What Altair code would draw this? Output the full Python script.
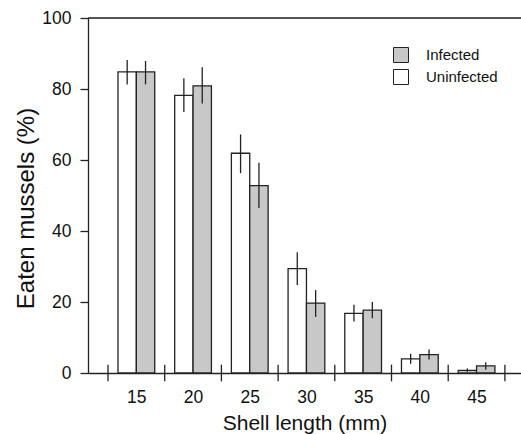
import altair as alt
import pandas as pd

lengths = [15, 20, 25, 30, 35, 40, 45]
uninfected = [84.8, 78.2, 61.9, 29.4, 16.8, 4.0, 0.7]
uninfected_lo = [81.3, 73.5, 56.3, 24.8, 14.5, 2.6, 0.3]
uninfected_hi = [88.2, 83.0, 67.2, 34.0, 19.2, 5.4, 1.3]
infected = [84.8, 80.9, 52.8, 19.7, 17.7, 5.2, 2.0]
infected_lo = [81.3, 75.9, 46.5, 15.8, 15.4, 3.8, 0.9]
infected_hi = [87.9, 86.1, 59.2, 23.4, 20.0, 6.6, 3.0]
boundaries = [12.5, 17.5, 22.5, 27.5, 32.5, 37.5, 42.5, 47.5]
groups = ["Infected", "Uninfected"]

FONT = "Liberation Sans"
DARK = "#222222"
HALF = 1.62  # bar width in mm units

rows = []
for i, L in enumerate(lengths):
    rows.append({"length": L, "group": "Uninfected", "value": uninfected[i],
                 "lo": uninfected_lo[i], "hi": uninfected_hi[i], "side": -1})
    rows.append({"length": L, "group": "Infected", "value": infected[i],
                 "lo": infected_lo[i], "hi": infected_hi[i], "side": 0})
df = pd.DataFrame(rows)
tick_df = pd.DataFrame({"b": boundaries})

xscale = alt.Scale(domain=[10.736, 48.92], nice=False, zero=False)
yscale = alt.Scale(domain=[0, 100], nice=False)

base = alt.Chart(df).transform_calculate(
    x0=f"datum.length + datum.side*{HALF}",
    x1=f"datum.length + (datum.side+1)*{HALF}",
    xc=f"datum.length + (datum.side+0.5)*{HALF}",
)

bars = base.mark_bar(stroke=DARK, strokeWidth=1.3).encode(
    x=alt.X("x0:Q", scale=xscale,
            axis=alt.Axis(values=lengths, ticks=False, title="Shell length (mm)",
                          labelFontSize=17.5, labelPadding=15, titleFontSize=21,
                          titlePadding=7, domainColor=DARK, domainWidth=1.3,
                          grid=False, labelColor="#111", titleColor="#111")),
    x2="x1:Q",
    y=alt.Y("value:Q", scale=yscale,
            axis=alt.Axis(values=[0, 20, 40, 60, 80, 100], tickSize=8,
                          tickColor=DARK, tickWidth=1.3, domainColor=DARK,
                          domainWidth=1.3, labelFontSize=17.5, labelPadding=9,
                          title="Eaten mussels (%)", titleFontSize=24,
                          titleAngle=270, titleX=-55, titleY=190,
                          titleBaseline="alphabetic", titleAlign="center",
                          grid=False, labelColor="#111", titleColor="#111")),
    y2=alt.datum(0),
    color=alt.Color("group:N", scale=alt.Scale(domain=groups, range=["#c8c8c8", "#ffffff"]),
                    legend=alt.Legend(title=None, orient="none", legendX=305, legendY=29,
                                      symbolType="square", symbolSize=225,
                                      symbolStrokeColor=DARK, symbolStrokeWidth=1,
                                      labelFontSize=15, labelOffset=17, rowPadding=2,
                                      labelColor="#111", padding=0)),
)

errs = base.mark_rule(color=DARK, strokeWidth=1.3).encode(
    x="xc:Q", y="lo:Q", y2="hi:Q"
)

bticks = alt.Chart(tick_df).transform_calculate(
    ylo="-2.35", yhi="2.35"
).mark_rule(color=DARK, strokeWidth=1.3).encode(
    x="b:Q", y="ylo:Q", y2="yhi:Q"
)

top = alt.Chart(pd.DataFrame({"t": [100]})).mark_rule(color=DARK, strokeWidth=1.3).encode(
    y="t:Q"
)

chart = alt.layer(bars, errs, bticks, top).properties(
    width=433, height=355,
    autosize=alt.AutoSizeParams(type="none"),
    padding={"left": 88, "top": 18, "right": 0, "bottom": 61},
).configure_view(stroke=None).configure(font=FONT).configure_axis(labelFont=FONT, titleFont=FONT, titleFontWeight="normal").configure_legend(labelFont=FONT)

chart.save("out.html", embed_options={"renderer": "svg", "actions": False})
